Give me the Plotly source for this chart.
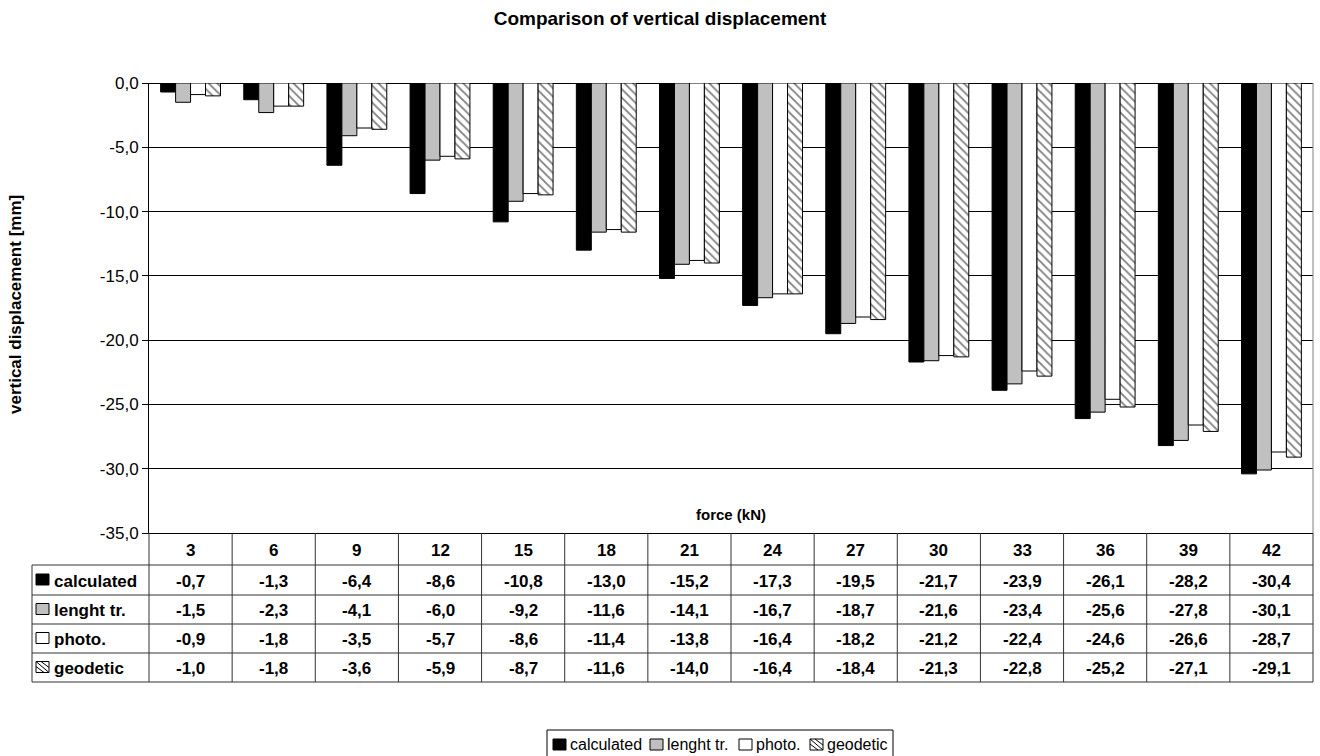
import plotly.graph_objects as go

# Data: vertical displacement [mm] for each load step
forces = [3, 6, 9, 12, 15, 18, 21, 24, 27, 30, 33, 36, 39, 42]
calculated = [-0.7, -1.3, -6.4, -8.6, -10.8, -13.0, -15.2, -17.3, -19.5, -21.7, -23.9, -26.1, -28.2, -30.4]
lenght_tr = [-1.5, -2.3, -4.1, -6.0, -9.2, -11.6, -14.1, -16.7, -18.7, -21.6, -23.4, -25.6, -27.8, -30.1]
photo = [-0.9, -1.8, -3.5, -5.7, -8.6, -11.4, -13.8, -16.4, -18.2, -21.2, -22.4, -24.6, -26.6, -28.7]
geodetic = [-1.0, -1.8, -3.6, -5.9, -8.7, -11.6, -14.0, -16.4, -18.4, -21.3, -22.8, -25.2, -27.1, -29.1]
series_names = ["calculated", "lenght tr.", "photo.", "geodetic"]
series_values = [calculated, lenght_tr, photo, geodetic]
y_ticks = [0, -5, -10, -15, -20, -25, -30, -35]

W, H = 1320, 756
L, R, T, B = 149, 1313, 83, 533  # plot area in pixels
FONT = "Liberation Sans, Arial, sans-serif"


def px(x):
    return (x - L) / (R - L)


def py(y):
    return (B - y) / (B - T)


def fmt(v):
    # decimal comma, plain hyphen as minus sign
    return f"{v:.1f}".replace(".", ",")


fills = ["black", "#c0c0c0", "white", "white"]
styles = [
    dict(color=fills[0], line=dict(color="black", width=1)),
    dict(color=fills[1], line=dict(color="black", width=1)),
    dict(color=fills[2], line=dict(color="black", width=1)),
    dict(color=fills[3], line=dict(color="black", width=1),
         pattern=dict(shape="\\", fgcolor="black", bgcolor="white", size=6, solidity=0.3)),
]

fig = go.Figure()
idx = list(range(len(forces)))
for name, vals, st in zip(series_names, series_values, styles):
    fig.add_trace(go.Bar(x=idx, y=vals, name=name, marker=st, showlegend=False))

shapes = []
annotations = []

# data table geometry
col_w = (R - L) / len(forces)
header_top, header_bot = 533, 565
row_edges = [565, 595, 624, 653, 682]
label_left = 32
line_col = "#333333"


def hline(x0, x1, y, color=line_col):
    shapes.append(dict(type="line", xref="paper", yref="paper", x0=px(x0), x1=px(x1),
                       y0=py(y), y1=py(y), line=dict(color=color, width=1)))


def vline(x, y0, y1, color=line_col):
    shapes.append(dict(type="line", xref="paper", yref="paper", x0=px(x), x1=px(x),
                       y0=py(y0), y1=py(y1), line=dict(color=color, width=1)))


def label(x, y, text, size, xanchor="center", bold=True, angle=0):
    annotations.append(dict(xref="paper", yref="paper", x=px(x), y=py(y),
                            xanchor=xanchor, yanchor="middle", textangle=angle,
                            text=f"<b>{text}</b>" if bold else text, showarrow=False,
                            font=dict(size=size, color="black", family=FONT)))


def key(x0, yc, r):
    # small legend key square (hatched for geodetic)
    x1 = x0 + 13
    y0, y1 = yc - 6, yc + 5
    shapes.append(dict(type="rect", xref="paper", yref="paper", x0=px(x0), x1=px(x1),
                       y0=py(y1), y1=py(y0), fillcolor=fills[r],
                       line=dict(color="black", width=1)))
    if r == 3:
        for d in (-5, 0, 5):
            shapes.append(dict(type="line", xref="paper", yref="paper",
                               x0=px(max(x0, x0 + d)), y0=py(y0 + max(0, -d)),
                               x1=px(min(x1, x1 + d)), y1=py(y1 - max(0, d)),
                               line=dict(color="black", width=1)))


for y in row_edges:
    hline(label_left, R, y)
vline(label_left, row_edges[0], row_edges[-1])
for i in range(len(forces) + 1):
    vline(L + i * col_w, header_top, row_edges[-1])
# right border of plot area
vline(R, T, header_top, color="#808080")

TABLE_SIZE = 17
# header row: force values
for i, f in enumerate(forces):
    label(L + (i + 0.5) * col_w, (header_top + header_bot) / 2 + 1, f, TABLE_SIZE)

# table rows
for r, (name, vals) in enumerate(zip(series_names, series_values)):
    yc = (row_edges[r] + row_edges[r + 1]) / 2 + 1
    for i, v in enumerate(vals):
        label(L + (i + 0.5) * col_w, yc, fmt(v), TABLE_SIZE)
    label(52, yc, name, TABLE_SIZE, xanchor="left")
    key(36, yc - 1, r)

# x axis title inside plot area
label(731, 514, "force (kN)", 15)
# y axis title
label(15, 305, "vertical displacement [mm]", 17, angle=-90)

# legend box at the bottom
leg_x0, leg_x1, leg_y0, leg_y1 = 547, 893, 730, 758
shapes.append(dict(type="rect", xref="paper", yref="paper", x0=px(leg_x0), x1=px(leg_x1),
                   y0=py(leg_y1), y1=py(leg_y0), line=dict(color="black", width=1),
                   fillcolor="rgba(0,0,0,0)"))
leg_pos = [553, 650, 739, 810]
for r, (name, x) in enumerate(zip(series_names, leg_pos)):
    key(x, 745, r)
    label(x + 15, 744, name, 16, xanchor="left", bold=False)

fig.update_layout(
    width=W, height=H,
    margin=dict(l=L, r=W - R, t=T, b=H - B, autoexpand=False),
    paper_bgcolor="white", plot_bgcolor="white",
    font=dict(family=FONT, size=16, color="black"),
    title=dict(text="<b>Comparison of vertical displacement</b>", x=0.5, xanchor="center",
               y=1 - 18 / H, yanchor="middle", font=dict(size=19, color="black", family=FONT)),
    barmode="group", bargap=0.28, bargroupgap=0,
    xaxis=dict(range=[-0.5, len(forces) - 0.5], showticklabels=False, showgrid=False,
               zeroline=False, showline=True, linecolor="black", linewidth=1, ticks=""),
    yaxis=dict(range=[-35, 0], tickvals=y_ticks, ticktext=[fmt(v) for v in y_ticks],
               showgrid=True, gridcolor="black",
               gridwidth=1, zeroline=True, zerolinecolor="black", zerolinewidth=1,
               showline=True, linecolor="black", linewidth=1, ticks="outside", ticklen=6,
               tickcolor="black", tickfont=dict(size=17, color="black", family=FONT)),
    shapes=shapes, annotations=annotations,
    showlegend=False,
)

fig.write_html("out.html")
